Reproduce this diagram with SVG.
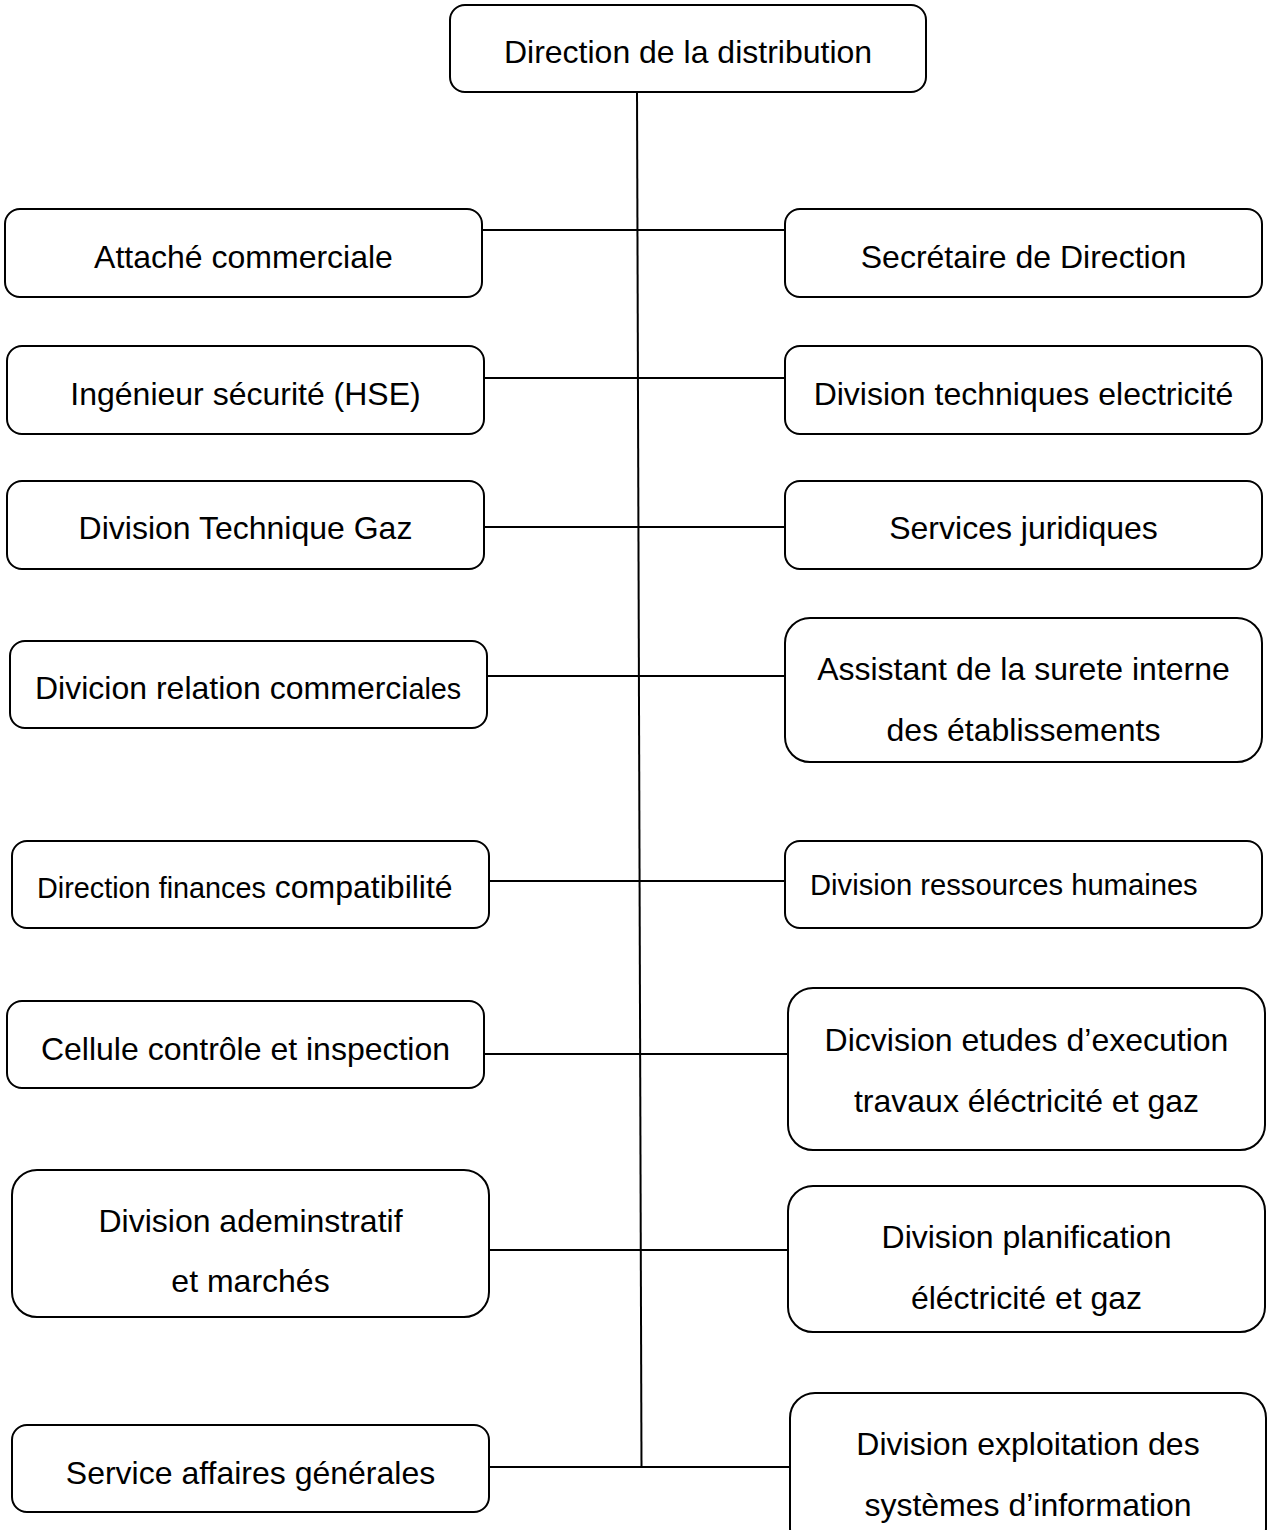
<svg xmlns="http://www.w3.org/2000/svg" width="1267" height="1530" viewBox="0 0 1267 1530">
<style>
.box{fill:#fff;stroke:#000;stroke-width:2}
.t{font-family:"Liberation Sans",Arial,sans-serif;font-size:32px;fill:#000;text-anchor:middle}
.s{font-size:28.8px}
.c{stroke:#000;stroke-width:2;fill:none}
</style>
<rect width="1267" height="1530" fill="#fff"/>
<g id="connectors">
<line class="c" x1="637" y1="92" x2="641.5" y2="1468"/>
<line class="c" x1="482" y1="230" x2="785" y2="230"/>
<line class="c" x1="484" y1="378" x2="785" y2="378"/>
<line class="c" x1="484" y1="527" x2="785" y2="527"/>
<line class="c" x1="482" y1="676" x2="785" y2="676"/>
<line class="c" x1="482" y1="881" x2="785" y2="881"/>
<line class="c" x1="484" y1="1054" x2="788" y2="1054"/>
<line class="c" x1="487" y1="1250" x2="788" y2="1250"/>
<line class="c" x1="489" y1="1467" x2="790" y2="1467"/>
</g>
<g id="n-top"><rect class="box" x="450" y="5" width="476" height="87" rx="15"/><text class="t" x="688" y="63">Direction de la distribution</text></g>
<g id="n-l1"><rect class="box" x="5" y="209" width="477" height="88" rx="15"/><text class="t" x="243.5" y="268">Attaché commerciale</text></g>
<g id="n-l2"><rect class="box" x="7" y="346" width="477" height="88" rx="15"/><text class="t" x="245.5" y="405">Ingénieur sécurité (HSE)</text></g>
<g id="n-l3"><rect class="box" x="7" y="481" width="477" height="88" rx="15"/><text class="t" x="245.5" y="539">Division Technique Gaz</text></g>
<g id="n-l4"><rect class="box" x="10" y="641" width="477" height="87" rx="15"/><text class="t" x="35" y="699" style="text-anchor:start">Divicion relation commerci<tspan class="s">ales</tspan></text></g>
<g id="n-l5"><rect class="box" x="12" y="841" width="477" height="87" rx="15"/><text class="t" x="37" y="898" style="text-anchor:start"><tspan class="s">Direction finances</tspan> compatibilité</text></g>
<g id="n-l6"><rect class="box" x="7" y="1001" width="477" height="87" rx="15"/><text class="t" x="245.5" y="1060">Cellule contrôle et inspection</text></g>
<g id="n-l7"><rect class="box" x="12" y="1170" width="477" height="147" rx="25"/><text class="t" x="250.5" y="1232">Division ademinstratif</text><text class="t" x="250.5" y="1292">et marchés</text></g>
<g id="n-l8"><rect class="box" x="12" y="1425" width="477" height="87" rx="15"/><text class="t" x="250.5" y="1484">Service affaires générales</text></g>
<g id="n-r1"><rect class="box" x="785" y="209" width="477" height="88" rx="15"/><text class="t" x="1023.5" y="268">Secrétaire de Direction</text></g>
<g id="n-r2"><rect class="box" x="785" y="346" width="477" height="88" rx="15"/><text class="t" x="1023.5" y="405">Division techniques electricité</text></g>
<g id="n-r3"><rect class="box" x="785" y="481" width="477" height="88" rx="15"/><text class="t" x="1023.5" y="539">Services juridiques</text></g>
<g id="n-r4"><rect class="box" x="785" y="618" width="477" height="144" rx="25"/><text class="t" x="1023.5" y="680">Assistant de la surete interne</text><text class="t" x="1023.5" y="741">des établissements</text></g>
<g id="n-r5"><rect class="box" x="785" y="841" width="477" height="87" rx="15"/><text class="t" x="810" y="895" style="text-anchor:start;font-size:29.2px">Division ressources humaines</text></g>
<g id="n-r6"><rect class="box" x="788" y="988" width="477" height="162" rx="25"/><text class="t" x="1026.5" y="1051">Dicvision etudes d’execution</text><text class="t" x="1026.5" y="1112">travaux éléctricité et gaz</text></g>
<g id="n-r7"><rect class="box" x="788" y="1186" width="477" height="146" rx="25"/><text class="t" x="1026.5" y="1248">Division planification</text><text class="t" x="1026.5" y="1309">éléctricité et gaz</text></g>
<g id="n-r8"><rect class="box" x="790" y="1393" width="476" height="160" rx="25"/><text class="t" x="1028" y="1455">Division exploitation des</text><text class="t" x="1028" y="1516">systèmes d’information</text></g>
</svg>
